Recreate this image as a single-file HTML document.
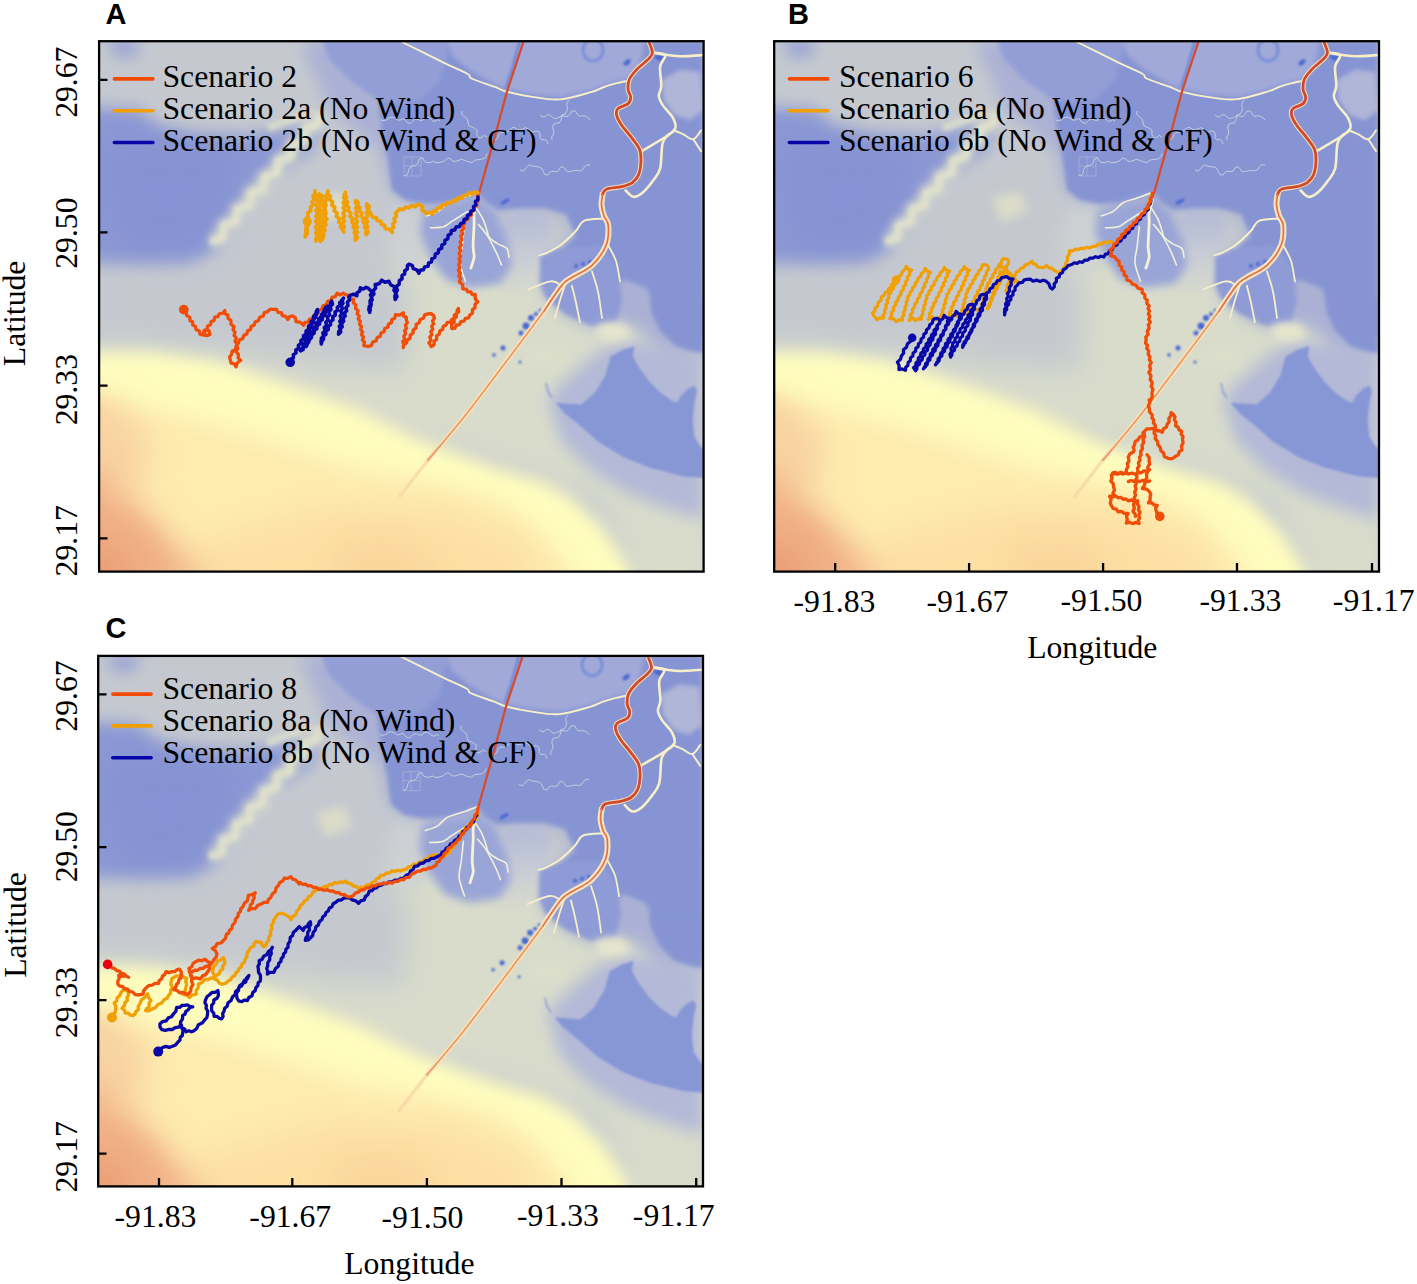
<!DOCTYPE html>
<html><head><meta charset="utf-8"><title>Trajectories</title><style>
html,body{margin:0;padding:0;background:#fff;width:1417px;height:1284px;overflow:hidden;}
svg{display:block;}
.t{font-family:"Liberation Serif",serif;font-size:31.7px;fill:#000;}
.pl{font-family:"Liberation Sans",sans-serif;font-weight:bold;font-size:29px;fill:#000;}
</style></head><body>
<svg width="1417" height="1284" viewBox="0 0 1417 1284">
<defs>
<clipPath id="clipA"><rect x="99.1" y="41.2" width="604.5" height="530.4"/></clipPath>
<filter id="b4" filterUnits="userSpaceOnUse" x="0" y="0" width="800" height="700"><feGaussianBlur stdDeviation="4"/></filter>
<filter id="b8" filterUnits="userSpaceOnUse" x="0" y="0" width="800" height="700"><feGaussianBlur stdDeviation="8"/></filter>
<filter id="b12" filterUnits="userSpaceOnUse" x="0" y="0" width="800" height="700"><feGaussianBlur stdDeviation="12"/></filter>
<filter id="b15" filterUnits="userSpaceOnUse" x="0" y="0" width="800" height="700"><feGaussianBlur stdDeviation="15"/></filter>
<filter id="b25" filterUnits="userSpaceOnUse" x="0" y="0" width="800" height="700"><feGaussianBlur stdDeviation="25"/></filter>
<filter id="b2" filterUnits="userSpaceOnUse" x="0" y="0" width="800" height="700"><feGaussianBlur stdDeviation="2"/></filter>
<filter id="b1" filterUnits="userSpaceOnUse" x="0" y="0" width="800" height="700"><feGaussianBlur stdDeviation="1"/></filter>
<g id="map" clip-path="url(#clipA)">
  <!-- ===== sea ===== -->
  <rect x="60" y="0" width="700" height="620" fill="#c5c9cf"/>
  <g filter="url(#b15)">
    <polygon points="60,345 200,352 300,365 405,372 410,300 390,240 470,250 560,262 640,300 720,330 720,640 650,640 600,500 500,465 400,440 300,400 200,380 60,370" fill="#d9dccb"/>
  </g>
  <g filter="url(#b8)">
    <polygon points="60,352 150,352 220,362 300,388 360,410 420,440 500,469 545,482 575,500 605,530 630,570 640,640 60,640" fill="#fefdbe"/>
  </g>
  <g filter="url(#b12)">
    <polygon points="60,400 150,408 220,425 300,450 350,467 420,480 496,500 540,530 571,570 580,640 60,640" fill="#feebae"/>
  </g>
  <g filter="url(#b15)">
    <polygon points="60,390 115,400 150,440 140,490 60,510" fill="#f8d3a2"/>
    <polygon points="200,540 330,505 450,510 520,540 555,600 555,640 200,640" fill="#fde0a4"/>
    <polygon points="330,545 400,535 440,565 430,600 340,600" fill="#fbd69c"/>
  </g>
  <g filter="url(#b15)">
    <polygon points="60,465 100,472 150,515 210,580 60,640" fill="#f2b58a"/>
  </g>
  <radialGradient id="orc" cx="98" cy="575" r="80" gradientUnits="userSpaceOnUse">
    <stop offset="0" stop-color="#ea9c72"/>
    <stop offset="1" stop-color="#eea67c" stop-opacity="0"/>
  </radialGradient>
  <rect x="60" y="480" width="160" height="140" fill="url(#orc)"/>
  <!-- ===== left blue shallow zone ===== -->
  <g filter="url(#b8)">
    <polygon points="60,106 140,109 158,126 200,136 250,136 290,128 322,122 312,150 284,168 260,180 243,204 228,228 214,250 192,262 140,264 60,262" fill="#8b98d4"/>
    <polygon points="108,41 140,41 136,55 115,56" fill="#8f9ad6"/>
  </g>
  <g filter="url(#b15)">
    <polygon points="100,150 180,140 240,150 230,190 210,235 180,250 120,245" fill="#8190d3" opacity="0.7"/>
  </g>
  <!-- cream streaks -->
  <g filter="url(#b4)" fill="none" stroke-linejoin="round">
    <path d="M210.3,241.8 L222.5,238.1 L223.9,225.5 L236.1,221.9 L237.6,209.3 L249.7,205.6 L251.2,193.0 L263.4,189.4 L264.8,176.8 L277.0,173.1 L278.4,160.5 L290.6,156.9 L292.1,144.3 L304.2,140.6 L305.7,128.0 L317.9,124.4 L319.3,111.8" stroke="#d4d7cd" stroke-width="14"/>
  </g>
  <g filter="url(#b2)" fill="none" stroke-linejoin="round">
    <path d="M210.3,241.8 L222.5,238.1 L223.9,225.5 L236.1,221.9 L237.6,209.3 L249.7,205.6 L251.2,193.0 L263.4,189.4 L264.8,176.8 L277.0,173.1 L278.4,160.5 L290.6,156.9 L292.1,144.3 L304.2,140.6 L305.7,128.0 L317.9,124.4 L319.3,111.8" stroke="#dfe0cb" stroke-width="6"/>
    <path d="M268,128 L290,120 L312,112" stroke="#d6d9cd" stroke-width="8"/>
  </g>
  <g filter="url(#b4)">
    <polygon points="318,198 345,192 352,212 326,222" fill="#dcdcc8"/>
  </g>
  <!-- ===== land ===== -->
  <linearGradient id="lz" x1="0" y1="210" x2="0" y2="300" gradientUnits="userSpaceOnUse">
    <stop offset="0" stop-color="#b2b9d8"/><stop offset="0.6" stop-color="#ccd0d4"/><stop offset="1" stop-color="#dadccb"/>
  </linearGradient>
  <g filter="url(#b8)">
    <!-- shallow halo around land -->
    <polygon points="300,41 703,41 703,360 660,358 640,330 625,326 600,330 570,318 545,296 540,270 560,250 575,232 560,214 520,210 500,212 480,198 440,206 405,202 390,190 380,150 330,110" fill="#aab1d4"/>
    <polygon points="396,205 420,208 428,230 426,262 418,275 400,262 390,225" fill="#cdd1d4"/>
  </g>
  <g filter="url(#b4)">
    <polygon points="505,214 530,210 550,220 552,240 544,256 534,280 524,304 505,304 498,272 502,240" fill="url(#lz)"/>
  </g>
  <g filter="url(#b2)">
    <polygon points="322,41 330,60 350,80 378,100 382,130 388,160 392,190 405,200 425,204 448,203 466,198 478,193 486,203 498,210 520,208 545,208 566,214 576,236 560,250 548,262 546,284 562,300 582,315 600,322 612,318 618,300 621,280 629,281 648,289 653,310 657,315 670,330 704,338 703,41" fill="#8694d3"/>
    <polygon points="322,41 330,60 350,80 378,100 400,104 420,100 440,80 450,41" fill="#939ed7"/>
    <polygon points="448,41 452,55 470,70 494,84 507,89 532,94 560,97 591,90 604,85 617,81 628,79 640,65 645,41" fill="#a0a9d8"/>
    <polygon points="662,80 680,70 700,72 703,110 690,120 675,115 664,100" fill="#b0b6d8"/>
    <!-- atchafalaya delta lobes -->
    <polygon points="540,256 560,248 600,246 618,270 622,300 616,322 592,326 565,314 546,298 540,284" fill="#8e9bd6"/>
  </g>
  <!-- wax lake delta lobes -->
  <g filter="url(#b4)">
    <polygon points="424,210 478,196 496,212 508,240 512,266 500,284 470,288 446,280 430,258 420,232" fill="#9aa5d7"/>
  </g>
  <!-- lower right island -->
  <g filter="url(#b8)">
    <polygon points="548,398 565,380 600,350 625,340 660,345 704,352 704,520 670,510 630,495 590,470 560,440" fill="#b3b9d7"/>
  </g>
  <g filter="url(#b4)">
    <polygon points="596,326 612,322 628,326 630,338 612,342 598,338" fill="#e6e6cc"/>
    <polygon points="530,350 550,346 566,352 564,366 545,370 530,364" fill="#dcdecb"/>
  </g>
  <g filter="url(#b1)">
    <polygon points="555.7,402.8 581.4,404.5 595.1,392.5 605.4,375.4 610.5,356.5 622.5,349.7 634.5,346.2 632.8,356.5 639.6,368.5 649.9,382.2 660.2,392.5 672.2,401 677.3,402.8 680.7,395.9 687.6,389.1 694.4,385.6 697,390.8 694.4,402.8 692.7,419.9 694.4,437 701.3,447.3 704,449 704,478.1 684.1,476.4 649.9,467.8 624.2,457.6 598.5,442.1 581.4,426.7 564.3,413" fill="#8797d6"/>
    <path d="M546,383 L548,392 L552,398" stroke="#8797d6" stroke-width="1.5" fill="none"/>
  </g>
  <!-- right side land down to island -->
  <g filter="url(#b2)">
    <polygon points="640,300 651.6,300 651.6,312 660.2,330.8 675.6,346.2 692.7,351.4 704,353 704,300" fill="#8694d3"/>
  </g>
  <ellipse cx="593" cy="50" rx="10" ry="11" fill="none" stroke="#7b90d8" stroke-width="3" filter="url(#b1)"/>
  <path d="M520,41 L512,70 L506,88" stroke="#7288d6" stroke-width="3" fill="none" filter="url(#b1)"/>
  <!-- ===== dark blue spots ===== -->
  <g fill="#4a66d2" filter="url(#b1)">
    <ellipse cx="505" cy="201.5" rx="5" ry="1.8" transform="rotate(-30 505 201.5)"/>
    <circle cx="531" cy="318" r="3"/><circle cx="526" cy="326" r="3.5"/><circle cx="521" cy="333" r="2.5"/>
    <circle cx="536" cy="314" r="2"/><circle cx="540" cy="310" r="1.5"/>
    <circle cx="503" cy="348" r="2.5"/><circle cx="494" cy="355" r="1.8"/><circle cx="520" cy="362" r="1.5"/>
    <circle cx="576" cy="266" r="2"/><circle cx="583" cy="264" r="2"/><circle cx="590" cy="262" r="2"/>
    <path d="M623,63 l5,-4 l3,1 l-2,4 l-4,2z"/>
    <path d="M653,56 l8,-1 l4,3 l-6,3z"/>
  </g>
  <!-- ===== channels (cream) ===== -->
  <g fill="none" stroke="#f6efc8" stroke-linecap="round" stroke-linejoin="round">
    <path d="M402.0,42.0 C408.9,45.4 432.6,57.3 443.5,62.6 C454.4,67.9 463.0,71.3 467.7,74.0 C472.4,76.7 467.1,76.4 471.5,78.5 C475.9,80.6 488.4,84.5 494.3,86.7 C500.2,88.9 500.6,90.1 507.0,91.8 C513.4,93.5 523.6,95.6 532.4,96.9 C541.2,98.2 550.2,100.2 560.0,99.4 C569.8,98.6 583.7,94.2 591.0,92.1 C598.3,90.0 599.7,88.5 604.0,87.0 C608.3,85.5 612.8,84.3 617.0,83.2 C621.2,82.1 627.0,81.0 629.0,80.6" stroke-width="1.9"/>
    <path d="M652.4,52.5 C654.5,52.9 663.9,52.7 665.2,55.0 C666.5,57.3 660.8,61.4 660.1,66.5 C659.5,71.6 661.5,80.8 661.3,85.7 C661.1,90.6 658.6,92.7 658.8,95.9 C659.0,99.1 660.3,101.3 662.6,104.9 C664.9,108.5 670.7,113.8 672.8,117.6 C674.9,121.4 676.2,124.9 675.4,127.9 C674.5,130.9 673.2,131.7 667.7,135.5 C662.2,139.3 646.5,148.2 642.2,150.8" stroke-width="2.6"/>
    <path d="M652.4,52.5 C655.0,52.9 663.0,54.4 667.7,55.0 C672.4,55.6 674.5,56.3 680.5,56.3 C686.5,56.3 700.1,55.2 704.0,55.0" stroke-width="2.6"/>
    <path d="M669.0,134.0 C667.9,135.5 664.1,137.4 662.6,143.2 C661.1,149.0 661.8,162.3 660.1,168.7 C658.4,175.1 655.4,177.4 652.4,181.5 C649.4,185.6 645.4,190.4 642.2,193.0 C639.0,195.6 636.0,197.2 633.2,196.8 C630.4,196.4 626.9,191.5 625.6,190.4" stroke-width="2.6"/>
    <path d="M675.4,131.0 C676.7,131.5 680.0,132.8 683.0,134.2 C686.0,135.6 690.3,139.9 693.3,139.3 C696.3,138.7 699.7,131.9 701.0,130.4" stroke-width="2"/>
    <path d="M693.3,139.3 L701.0,151.0" stroke-width="2"/>
    <path d="M602.6,194.3 C602.4,196.1 601.3,201.4 601.5,205.0 C601.7,208.6 602.9,212.7 604.0,216.0 C605.1,219.3 607.8,220.2 608.2,225.0 C608.6,229.8 608.9,238.3 606.2,245.0 C603.5,251.7 597.7,259.9 592.0,265.3 C586.3,270.7 576.9,274.1 571.8,277.5 C566.7,280.9 566.3,279.9 561.6,285.6 C556.9,291.3 546.4,307.5 543.4,311.9" stroke-width="6" stroke="#f4e4c0"/>
    <path d="M604.0,218.7 C600.7,219.0 588.7,218.8 584.0,220.8 C579.3,222.9 579.6,227.0 575.8,231.0 C571.9,235.0 565.8,241.2 560.9,244.8 C556.0,248.5 550.3,251.2 546.7,252.9 C543.1,254.6 540.6,254.8 539.4,255.2" stroke-width="2"/>
    <path d="M561.6,285.6 C559.8,284.9 556.3,280.7 550.8,281.3 C545.3,281.9 532.2,288.0 528.5,289.4" stroke-width="1.8"/>
    <path d="M571.8,285.6 C572.5,288.3 574.4,295.7 575.8,301.8 C577.1,307.9 579.2,318.6 579.9,322.0" stroke-width="1.8"/>
    <path d="M592.0,271.4 C593.0,274.8 596.3,283.8 598.0,291.6 C599.7,299.4 601.3,313.6 602.0,318.0" stroke-width="1.8"/>
    <path d="M608.0,245.0 C609.3,247.7 614.0,254.9 616.0,261.0 C618.0,267.1 619.3,278.1 620.0,281.5" stroke-width="1.8"/>
    <path d="M566.0,282.0 C565.0,285.0 561.8,294.0 560.0,300.0 C558.2,306.0 555.8,315.0 555.0,318.0" stroke-width="1.8"/>
    <path d="M543.4,311.9 C537.3,320.0 520.2,343.0 507.0,360.5 C493.8,378.0 477.2,400.4 464.0,417.0 C450.8,433.6 434.0,452.8 428.0,460.0" stroke-width="4.6" stroke="#f8e4ba"/>
    <path d="M428,460 L400,496" stroke-width="3.6" stroke="#f5d4a4" opacity="0.7"/>
    <path d="M478.5,191.8 C475.6,192.9 466.1,196.6 461.0,198.4 C455.9,200.2 451.8,200.5 448.0,202.7 C444.2,204.9 441.8,209.2 438.2,211.4 C434.6,213.6 428.2,215.1 426.2,215.8" stroke-width="1.6" stroke="#f2f0d8"/>
    <path d="M467.6,211.4 C465.1,213.0 456.3,218.6 452.3,221.2 C448.3,223.8 447.2,225.6 443.6,226.7 C440.0,227.8 432.7,227.6 430.5,227.8" stroke-width="1.6" stroke="#f2f0d8"/>
    <path d="M478.5,224.5 C479.9,226.3 484.3,230.8 487.2,235.4 C490.1,240.0 493.6,246.9 496.0,251.8 C498.4,256.7 500.5,262.7 501.4,264.9" stroke-width="1.6" stroke="#f2f0d8"/>
    <path d="M464.3,226.7 C463.9,230.0 462.9,240.3 462.2,246.3 C461.5,252.3 459.5,256.9 460.0,262.7 C460.5,268.5 464.5,278.1 465.4,281.2" stroke-width="1.6" stroke="#f2f0d8"/>
    <path d="M476.3,208.2 C477.4,210.0 481.1,215.3 482.9,219.1 C484.7,222.9 486.1,228.0 487.2,231.1 C488.3,234.2 487.6,235.4 489.4,237.6 C491.2,239.8 495.2,242.3 498.1,244.1 C501.0,245.9 505.1,246.3 506.9,248.5 C508.7,250.7 508.6,255.8 509.0,257.2" stroke-width="1.6" stroke="#f2f0d8"/>
    <path d="M477.5,200.0 C477.3,200.8 476.9,202.6 476.3,204.9 C475.7,207.2 474.5,210.3 474.1,213.6 C473.7,216.9 474.3,219.1 474.1,224.5 C473.9,229.9 473.1,240.9 473.1,246.3 C473.1,251.8 474.5,253.6 474.1,257.2 C473.7,260.8 471.4,266.3 470.9,268.1" stroke-width="2.8" stroke="#f5f2d6"/>
  </g>
  <g fill="none" stroke="#e4e6e2" stroke-width="0.9" opacity="0.75">
    <path d="M403.8,175.8 L407.0,175.1 L408.1,172.5 L408.7,169.3 L410.2,167.1 L412.9,165.9 L415.9,165.1 L418.0,163.2 L418.8,159.5 L422.5,157.6 L424.3,161.1 L426.8,162.5 L429.9,162.5 L433.6,161.3 L436.1,162.8 L440.0,162.3 L443.1,161.6 L445.6,160.0 L447.9,158.0 L450.7,158.9 L452.8,161.2 L455.3,161.3 L458.0,160.7 L461.3,159.3 L464.7,160.2 L468.3,161.8 L472.1,162.5 L475.4,160.0 L478.0,159.7 L481.2,159.2 L484.2,158.5 L486.0,156.3 L487.3,153.6"/>
    <path d="M462.1,111.0 L461.6,114.2 L463.7,116.1 L466.2,117.9 L467.7,120.1 L468.0,123.0 L469.1,125.9 L471.8,127.2 L474.6,128.4 L477.1,130.4 L476.8,134.4 L479.0,138.4 L481.7,137.2 L484.3,135.4 L487.0,137.0"/>
    <path d="M492.9,139.9 L496.2,139.6 L497.9,137.4 L499.1,134.4 L500.9,132.4 L504.3,132.3 L506.3,131.9 L508.9,130.6 L511.4,128.1 L514.2,127.3 L517.3,129.4 L519.6,130.0 L522.6,129.1 L525.6,127.6 L528.1,128.8 L530.5,130.7 L533.0,132.3 L536.1,130.9 L539.0,131.6 L540.2,134.0 L540.0,137.6 L541.5,139.7 L545.2,139.7 L547.2,141.3 L548.0,144.0"/>
    <path d="M569.1,100.0 L567.1,102.5 L566.8,105.4 L567.4,108.6 L566.8,111.5 L565.1,114.1 L562.0,114.9 L561.5,118.0 L560.7,120.7 L559.2,122.9 L555.6,123.3 L553.2,124.7 L552.8,128.0 L553.7,131.1 L553.7,134.1 L551.7,137.0 L552.0,140.0"/>
    <path d="M381.0,120.1 L384.0,120.7 L386.7,119.7 L389.2,117.6 L392.0,117.1 L395.0,118.0 L397.2,119.8 L399.8,120.2 L402.9,118.5 L405.2,119.9 L407.2,122.4 L410.4,123.4 L412.5,121.5 L414.6,119.2 L417.3,119.2 L420.3,120.4 L422.9,120.2 L425.0,117.9 L427.7,117.4 L430.1,118.3 L432.3,120.6 L434.7,121.5 L437.7,119.7 L440.0,121.0"/>
    <path d="M519.9,169.8 L523.1,171.1 L525.3,169.1 L527.2,166.5 L529.4,164.9 L532.6,166.1 L534.0,166.3 L537.1,166.7 L540.1,167.4 L542.2,169.1 L543.5,171.9 L544.8,174.7 L548.1,175.1 L549.7,172.5 L552.2,171.2 L555.8,171.8 L558.5,170.9 L560.2,167.4 L563.0,166.7 L565.1,168.9 L567.1,171.6 L569.7,171.7 L572.6,170.8 L574.4,170.6 L577.3,170.4 L580.5,170.8 L582.9,169.3 L584.6,166.5 L586.9,164.9 L590.0,165.0"/>
    <path d="M540.0,114.8 L542.3,116.8 L544.8,116.8 L547.7,114.6 L550.2,115.2 L552.4,117.4 L554.8,118.6 L557.5,117.9 L559.6,117.1 L562.0,115.6 L565.1,116.3 L568.1,116.4 L570.1,114.3 L571.8,111.3 L575.5,111.0 L577.1,114.0 L579.1,116.3 L582.6,115.8 L585.6,116.3 L588.0,117.8 L590.0,120.0"/>
    <path d="M404,157 L404,176 L421,176 L421,157 Z M404,166 L421,166 M412,157 L412,176" stroke-width="0.6" opacity="0.6"/>
  </g>
  <!-- ===== red channels ===== -->
  <g fill="none" stroke-linecap="round" stroke-linejoin="round">
    <path d="M648.6,41.0 C649.2,42.9 652.4,49.5 652.4,52.5 C652.4,55.5 651.1,56.1 648.6,58.9 C646.1,61.7 640.3,65.7 637.1,69.1 C633.9,72.5 630.9,75.9 629.4,79.3 C627.9,82.7 627.9,86.5 628.1,89.5 C628.3,92.5 630.7,94.9 630.7,97.2 C630.7,99.5 630.2,101.7 628.1,103.6 C626.0,105.5 619.8,106.8 617.9,108.7 C616.0,110.6 616.0,112.3 616.6,115.1 C617.2,117.9 619.1,121.5 621.7,125.3 C624.3,129.1 629.0,134.0 632.0,138.1 C635.0,142.2 638.1,145.6 639.6,149.6 C641.1,153.6 641.1,158.1 640.9,162.3 C640.7,166.6 639.9,171.7 638.4,175.1 C636.9,178.5 634.8,180.9 632.0,182.8 C629.2,184.7 626.0,185.5 621.7,186.6 C617.4,187.7 609.6,187.9 606.4,189.2 C603.2,190.5 603.2,193.5 602.6,194.3" stroke="#f3dcb4" stroke-width="5"/>
    <path d="M648.6,41.0 C649.2,42.9 652.4,49.5 652.4,52.5 C652.4,55.5 651.1,56.1 648.6,58.9 C646.1,61.7 640.3,65.7 637.1,69.1 C633.9,72.5 630.9,75.9 629.4,79.3 C627.9,82.7 627.9,86.5 628.1,89.5 C628.3,92.5 630.7,94.9 630.7,97.2 C630.7,99.5 630.2,101.7 628.1,103.6 C626.0,105.5 619.8,106.8 617.9,108.7 C616.0,110.6 616.0,112.3 616.6,115.1 C617.2,117.9 619.1,121.5 621.7,125.3 C624.3,129.1 629.0,134.0 632.0,138.1 C635.0,142.2 638.1,145.6 639.6,149.6 C641.1,153.6 641.1,158.1 640.9,162.3 C640.7,166.6 639.9,171.7 638.4,175.1 C636.9,178.5 634.8,180.9 632.0,182.8 C629.2,184.7 626.0,185.5 621.7,186.6 C617.4,187.7 609.6,187.9 606.4,189.2 C603.2,190.5 603.2,193.5 602.6,194.3" stroke="#d04830" stroke-width="2.8"/>
    <path d="M602.6,194.3 C602.4,196.1 601.3,201.4 601.5,205.0 C601.7,208.6 602.9,212.7 604.0,216.0 C605.1,219.3 607.8,220.2 608.2,225.0 C608.6,229.8 608.9,238.3 606.2,245.0 C603.5,251.7 597.7,259.9 592.0,265.3 C586.3,270.7 576.9,274.1 571.8,277.5 C566.7,280.9 566.3,279.9 561.6,285.6 C556.9,291.3 546.4,307.5 543.4,311.9" stroke="#e4704a" stroke-width="1.7"/>
    <path d="M543.4,311.9 C537.3,320.0 520.2,343.0 507.0,360.5 C493.8,378.0 477.2,400.4 464.0,417.0 C450.8,433.6 434.0,452.8 428.0,460.0" stroke="#ec9a68" stroke-width="1.8"/>
    <path d="M523.7,41 L507,91.5 L493.7,141 L479,193" stroke="#d84a2e" stroke-width="2.3"/>
  </g>

  <!-- MAPLAYERS -->
</g>
</defs>
<use href="#map"/>
<use href="#map" transform="translate(675,0)"/>
<use href="#map" transform="translate(-0.9,614.7)"/>
<!-- TRACKS -->
<g fill="none" stroke-linecap="round" stroke-linejoin="round">
<path d="M182.8,309.6 L186.1,311.6 L186.6,315.4 L189.9,317.4 L189.9,320.5 L192.7,321.9 L192.7,325.0 L195.4,326.3 L196.1,329.6 L199.2,330.8 L200.1,334.3 L203.7,335.0 L207.5,335.5 L210.1,334.2 L209.0,330.8 L206.7,329.6 L203.6,333.5 L204.1,330.3 L207.1,329.2 L207.6,326.0 L210.6,324.8 L211.1,321.6 L214.1,320.5 L214.7,317.2 L217.9,316.7 L219.2,313.8 L222.4,313.3 L224.9,310.6 L225.0,313.7 L227.9,315.1 L228.0,318.2 L230.9,320.4 L231.0,324.2 L234.0,326.6 L233.0,329.8 L235.1,332.3 L234.1,335.4 L236.3,338.0 L235.1,341.2 L237.0,344.0 L236.0,346.6 L235.4,349.9 L232.2,351.1 L231.8,354.0 L229.6,357.2 L230.4,360.1 L231.1,363.1 L234.2,363.9 L236.1,366.8 L237.1,363.0 L240.7,360.4 L238.1,357.9 L238.5,354.4 L235.8,351.5 L237.8,348.7 L236.6,345.5 L238.4,343.2 L239.5,339.8 L242.8,338.6 L243.9,335.3 L246.9,334.0 L247.5,330.8 L250.6,329.5 L251.2,326.3 L254.2,325.1 L255.3,321.7 L258.6,320.6 L259.7,317.2 L263.1,316.1 L264.3,312.7 L267.4,311.8 L270.2,309.1 L273.5,309.4 L276.6,309.5 L278.0,312.4 L281.2,312.6 L282.4,315.7 L285.7,316.4 L287.8,319.6 L289.8,316.5 L292.4,315.9 L295.5,317.9 L296.1,321.8 L300.2,322.1 L303.6,325.2 L305.0,322.3 L308.2,322.2 L309.4,319.4 L312.8,318.3 L313.9,314.9 L317.3,313.8 L318.4,310.4 L321.8,309.3 L323.0,305.9 L326.4,304.8 L327.6,301.4 L330.9,300.6 L332.1,297.4 L335.4,296.6 L337.1,293.2 L340.1,294.8 L343.2,293.2 L345.7,294.6 L349.0,295.3 L350.1,298.4 L353.6,299.4 L353.3,302.8 L355.9,305.1 L355.5,308.5 L358.2,310.8 L357.2,313.8 L359.3,316.1 L358.3,319.1 L360.4,321.4 L359.5,324.3 L361.6,326.7 L360.5,329.5 L362.6,331.8 L361.5,334.7 L363.5,337.0 L362.4,339.9 L364.5,342.2 L363.8,345.6 L368.1,346.5 L371.5,345.4 L372.7,342.0 L376.1,340.9 L377.2,337.6 L380.3,336.3 L381.0,333.1 L384.1,331.8 L384.7,328.5 L387.8,327.3 L388.5,324.0 L391.4,322.7 L391.8,319.5 L394.8,318.2 L395.5,314.7 L399.5,315.1 L403.3,312.8 L403.4,315.9 L406.3,317.3 L406.3,319.9 L407.4,322.8 L405.4,325.3 L406.6,328.3 L404.6,330.8 L405.7,333.7 L403.7,336.2 L404.8,339.1 L402.7,341.6 L403.8,344.5 L403.2,347.6 L403.7,344.4 L406.6,343.1 L407.1,339.9 L410.1,338.5 L410.2,335.1 L413.1,333.2 L413.2,329.8 L416.1,328.0 L416.2,324.5 L419.0,322.9 L420.1,319.5 L423.5,318.3 L424.7,314.9 L427.2,314.0 L431.1,313.6 L433.4,315.4 L434.5,318.3 L432.5,320.8 L433.7,323.8 L431.7,326.3 L432.8,329.2 L430.8,331.7 L431.9,334.6 L429.8,337.1 L430.9,340.0 L429.0,343.0 L431.3,346.7 L434.1,344.8 L434.0,341.3 L436.7,339.4 L436.6,335.9 L439.3,334.1 L439.8,330.8 L442.7,329.5 L443.2,326.3 L445.9,325.2 L447.3,322.3 L450.5,322.2 L451.6,319.6 L454.3,318.2 L454.3,315.1 L457.1,313.6 L457.1,310.5 L458.4,308.4 L458.7,311.6 L456.1,313.7 L456.4,316.9 L453.8,318.9 L454.2,322.2 L451.5,324.5 L451.8,328.5 L455.0,328.0 L456.3,325.1 L459.5,324.6 L460.8,321.7 L464.1,321.2 L465.4,318.3 L468.6,317.8 L469.7,315.1 L472.5,313.2 L472.4,309.7 L475.1,307.8 L475.0,304.3 L477.9,301.8 L475.2,298.8 L475.3,294.5 L472.2,294.5 L470.8,291.8 L467.7,291.8 L466.3,289.1 L462.9,288.8 L462.6,284.6 L459.4,281.7 L460.7,278.7 L458.9,276.0 L460.2,273.0 L458.3,270.3 L460.0,267.5 L458.6,264.6 L460.3,261.9 L458.9,259.0 L460.6,256.3 L459.1,253.4 L460.9,250.7 L459.4,247.7 L461.3,245.1 L460.1,242.0 L462.0,239.4 L460.8,236.3 L462.7,233.7 L461.6,230.8 L463.7,228.4 L462.6,225.4 L464.5,223.4 L465.0,220.4 L467.9,219.4 L468.4,216.4 L471.4,215.3 L471.3,212.1 L474.1,210.4 L474.0,207.3 L476.8,205.6 L476.6,202.7 L478.6,199.8 L477.5,196.4 L478.7,193.4" stroke="#f04e08" stroke-width="3.3"/>
<path d="M306.3,221.6 L308.1,224.8 L305.9,227.7 L307.6,230.9 L305.4,233.8 L305.2,236.9 L307.3,233.8 L305.5,230.7 L307.6,227.6 L305.8,224.4 L308.0,221.8 L306.1,218.8 L308.2,216.5 L307.7,212.8 L310.9,210.9 L310.3,207.3 L313.0,205.0 L311.9,201.7 L314.6,199.2 L312.8,196.4 L314.9,193.9 L315.0,190.7 L314.6,194.2 L317.9,196.3 L315.9,199.1 L317.9,201.9 L315.9,204.8 L317.9,207.6 L315.9,210.4 L317.9,213.2 L315.8,216.0 L317.7,218.9 L315.6,221.6 L317.5,224.5 L315.4,227.3 L317.5,230.1 L315.6,233.0 L317.7,235.8 L315.8,238.7 L315.9,241.3 L318.5,238.9 L317.1,235.7 L319.6,233.2 L318.2,230.2 L320.3,227.4 L318.4,224.5 L320.5,221.7 L318.5,218.9 L320.6,216.1 L318.7,213.2 L320.8,210.4 L318.9,207.6 L321.0,204.8 L319.1,201.9 L321.1,199.2 L319.2,196.3 L319.4,193.9 L322.4,195.9 L321.6,199.5 L324.7,201.8 L323.1,204.9 L325.5,207.4 L323.9,210.5 L326.2,213.1 L324.6,216.2 L327.0,219.1 L324.6,221.6 L326.1,224.7 L323.6,227.2 L325.1,230.3 L322.7,232.7 L323.9,236.1 L321.3,238.4 L320.5,241.4 L322.9,238.8 L321.2,235.7 L323.6,233.1 L322.0,230.0 L324.3,227.5 L322.7,224.4 L324.9,221.7 L323.1,218.8 L325.2,216.1 L323.4,213.2 L325.6,210.5 L323.8,207.5 L326.2,205.0 L324.6,202.0 L326.9,199.5 L325.3,196.5 L327.7,194.1 L328.0,190.8 L327.3,194.3 L330.3,196.3 L329.6,199.8 L332.6,201.8 L331.8,205.2 L334.8,207.2 L334.1,210.8 L337.1,212.9 L336.3,216.4 L339.3,218.5 L338.6,222.0 L341.3,223.9 L340.3,227.1 L343.0,229.0 L343.9,232.0 L342.1,229.2 L344.2,226.6 L342.4,223.8 L344.5,221.3 L342.7,218.5 L344.8,215.9 L343.0,213.2 L345.1,210.6 L343.2,207.9 L345.2,205.4 L343.3,202.7 L345.4,200.2 L343.5,197.5 L345.5,194.9 L345.6,192.1 L344.2,195.1 L346.7,197.2 L345.3,200.2 L347.8,202.3 L346.5,205.3 L348.9,207.3 L348.0,210.7 L350.8,212.9 L349.9,216.4 L352.7,218.6 L351.7,222.0 L354.6,224.3 L353.1,227.3 L355.6,229.6 L354.1,232.6 L356.5,234.9 L355.0,237.8 L355.5,240.3 L357.5,237.6 L355.5,235.0 L357.5,232.3 L355.5,229.6 L357.5,226.9 L355.5,224.2 L357.5,221.6 L355.5,218.9 L357.5,216.2 L355.5,213.6 L357.5,210.9 L355.5,208.2 L357.5,205.5 L355.5,202.9 L355.6,200.5 L358.3,202.4 L357.3,205.6 L360.0,207.5 L359.0,210.7 L361.8,212.9 L361.0,216.4 L363.8,218.5 L363.0,222.0 L365.9,224.3 L364.5,227.3 L367.0,229.4 L365.6,232.4 L366.2,234.7 L368.1,232.0 L366.0,229.5 L367.9,226.8 L365.8,224.2 L367.7,221.5 L365.6,218.8 L367.8,215.9 L366.1,212.7 L368.3,209.8 L366.6,206.6 L366.8,203.8 L369.4,206.6 L367.9,210.2 L370.2,212.4 L372.8,217.4 L376.2,217.5 L377.2,220.8 L380.7,221.0 L381.3,224.5 L384.7,225.2 L385.4,228.8 L389.4,229.4 L392.5,232.5 L391.2,229.4 L393.8,227.2 L392.6,224.0 L395.2,221.8 L393.9,218.6 L396.5,216.4 L395.3,213.2 L397.2,211.7 L399.6,208.9 L403.3,209.7 L405.7,206.9 L409.2,207.8 L411.8,205.3 L415.2,206.8 L417.8,204.3 L420.1,205.1 L422.8,206.9 L421.9,210.1 L423.9,211.2 L426.2,213.6 L429.3,212.1 L432.4,214.3 L433.3,211.1 L436.7,211.1 L437.6,207.9 L441.0,207.9 L442.1,204.6 L445.6,205.3 L447.5,202.4 L450.9,203.2 L452.8,200.3 L456.3,201.0 L458.1,197.9 L461.7,198.3 L463.5,195.2 L467.1,195.6 L469.2,192.4 L472.3,194.2 L475.0,191.9 L478.0,192.7" stroke="#f09f05" stroke-width="3.6"/>
<path d="M290.9,362.7 L290.8,359.5 L293.4,357.9 L293.3,354.8 L296.0,353.1 L295.8,350.0 L298.5,348.4 L298.4,345.2 L301.1,343.6 L300.9,340.4 L303.6,338.8 L303.4,335.7 L306.1,334.0 L306.0,330.9 L308.7,329.3 L308.5,326.1 L311.2,324.5 L311.1,321.4 L313.7,319.7 L313.6,316.6 L316.3,314.9 L316.1,311.8 L317.4,309.5 L317.8,312.5 L315.4,314.4 L315.9,317.4 L313.4,319.3 L313.9,322.3 L311.4,324.1 L311.9,327.2 L309.4,329.0 L309.9,332.1 L307.4,333.9 L307.9,337.0 L305.4,338.8 L305.9,341.8 L303.4,343.7 L303.9,346.7 L301.5,348.6 L300.5,350.9 L303.2,349.4 L303.1,346.3 L305.8,344.8 L305.7,341.8 L308.4,340.3 L308.4,337.2 L311.1,335.7 L311.0,332.6 L313.7,331.1 L313.6,328.1 L316.3,326.6 L316.2,323.5 L318.9,322.0 L318.8,318.9 L321.5,317.4 L321.5,314.3 L324.2,312.9 L324.1,309.8 L326.8,308.3 L328.1,306.0 L325.4,307.6 L325.5,310.8 L322.8,312.4 L322.9,315.5 L320.2,317.2 L320.3,320.3 L317.6,321.9 L317.8,325.1 L315.0,326.7 L315.2,329.9 L312.5,331.5 L312.6,334.6 L309.9,336.3 L310.0,339.4 L307.3,341.0 L307.4,344.2 L306.1,346.6 L306.1,343.5 L308.8,342.1 L308.8,339.1 L311.5,337.6 L311.5,334.6 L314.2,333.1 L314.2,330.1 L316.9,328.7 L316.9,325.6 L319.6,324.2 L319.6,321.1 L322.3,319.7 L322.3,316.6 L325.1,315.2 L325.0,312.1 L327.8,310.7 L327.8,307.6 L330.5,306.2 L330.5,303.1 L331.7,301.1 L332.5,304.2 L330.2,306.4 L331.0,309.5 L328.8,311.7 L329.6,314.8 L327.3,317.0 L328.1,320.1 L325.8,322.3 L326.6,325.4 L324.3,327.6 L325.1,330.7 L322.8,332.9 L323.6,336.0 L321.3,338.2 L322.1,341.3 L321.3,344.0 L321.0,340.9 L323.6,339.2 L323.4,336.1 L326.0,334.4 L325.7,331.3 L328.3,329.6 L328.0,326.5 L330.6,324.8 L330.3,321.7 L333.0,319.9 L332.7,316.8 L335.3,315.1 L335.0,312.0 L337.6,310.3 L337.3,307.2 L339.9,305.5 L339.7,302.4 L342.3,300.7 L343.5,298.0 L341.7,300.4 L343.0,303.2 L341.2,305.6 L342.5,308.4 L340.7,310.9 L342.0,313.6 L340.2,316.1 L341.6,318.8 L339.7,321.3 L341.1,324.0 L339.2,326.5 L340.6,329.3 L338.7,331.7 L338.5,334.2 L340.8,332.0 L340.0,328.9 L342.3,326.7 L341.5,323.6 L343.7,321.3 L342.9,318.3 L345.2,316.0 L344.4,313.0 L346.7,310.7 L345.9,307.7 L348.1,305.4 L347.3,302.3 L349.6,300.1 L348.8,297.0 L350.2,295.4 L353.4,294.2 L356.9,295.8 L356.9,292.7 L359.7,291.3 L360.3,287.8 L363.3,289.1 L366.0,287.3 L368.2,288.2 L372.2,292.1 L370.4,294.9 L371.8,298.0 L370.0,300.9 L371.4,304.1 L369.2,306.5 L370.3,309.7 L369.7,312.5 L368.7,309.0 L370.9,306.1 L370.0,302.6 L372.2,299.8 L371.5,296.5 L373.9,294.1 L373.2,290.7 L375.6,288.3 L375.2,284.5 L379.1,283.8 L381.7,280.2 L384.9,282.2 L388.9,281.3 L390.8,285.0 L395.1,286.8 L393.9,290.2 L395.9,293.1 L394.8,296.5 L395.2,299.5 L397.0,296.5 L395.6,293.2 L397.4,290.1 L396.1,286.5 L399.1,284.3 L399.3,280.6 L402.0,278.9 L402.0,275.6 L404.7,273.9 L404.7,270.7 L407.4,269.0 L407.4,265.7 L408.8,264.2 L412.2,265.3 L413.3,268.7 L416.7,269.8 L418.9,273.2 L420.2,270.3 L423.4,269.8 L424.7,266.9 L428.1,266.3 L428.5,263.1 L431.5,261.8 L431.9,258.6 L434.9,257.3 L435.3,254.1 L438.3,252.8 L438.7,249.6 L441.7,248.2 L441.9,245.0 L444.8,243.4 L445.0,240.2 L447.9,238.6 L448.1,235.4 L451.0,233.8 L451.4,230.4 L454.7,229.9 L456.1,227.0 L459.4,226.5 L460.7,223.7 L463.6,222.6 L464.1,219.5 L467.1,218.4 L467.5,215.3 L470.5,214.2 L471.0,211.1 L474.0,209.8 L473.5,206.7 L475.9,204.8 L475.4,201.7 L477.8,199.8 L478.0,197.0" stroke="#0808a8" stroke-width="3.5"/>
<circle cx="183.8" cy="309.6" r="4.9" fill="#f04e08" stroke="none"/>
<circle cx="307.3" cy="221.7" r="4.6" fill="#f09f05" stroke="none"/>
<circle cx="290.2" cy="362.3" r="4.8" fill="#0808a8" stroke="none"/>
<path d="M894.9,279.9 L894.3,282.8 L891.7,284.3 L891.1,287.2 L888.5,288.6 L887.7,291.4 L885.0,292.6 L884.2,295.4 L881.5,296.7 L880.9,300.3 L878.1,302.7 L877.5,306.3 L875.1,308.0 L874.9,311.0 L872.4,313.1 L874.3,316.5 L877.1,319.6 L879.9,317.9 L883.6,318.2 L883.1,315.3 L884.9,313.0 L884.4,310.2 L886.2,307.9 L885.8,305.1 L887.6,302.8 L887.1,300.0 L888.9,297.7 L888.5,294.7 L890.8,293.0 L891.0,290.1 L893.4,288.4 L893.6,285.6 L896.0,283.9 L896.2,281.0 L898.5,279.3 L899.1,276.3 L901.7,274.5 L902.3,271.5 L904.9,269.7 L906.3,266.5 L908.2,269.0 L911.6,270.2 L909.4,272.2 L909.6,275.1 L907.4,277.1 L907.6,279.9 L905.4,281.9 L905.6,284.8 L903.5,286.7 L903.3,289.8 L900.9,291.9 L900.7,295.0 L898.3,297.0 L898.1,300.1 L895.7,302.2 L895.6,305.2 L893.4,307.4 L893.6,310.4 L891.4,312.6 L891.6,315.6 L889.8,318.6 L893.3,318.5 L896.1,321.6 L898.9,319.9 L902.6,320.2 L902.1,317.3 L903.9,315.0 L903.4,312.2 L905.2,309.9 L904.8,307.1 L906.6,304.8 L906.1,302.0 L907.9,299.7 L907.5,296.7 L909.8,295.0 L910.0,292.1 L912.4,290.4 L912.6,287.6 L915.0,285.9 L915.2,283.0 L917.5,281.3 L918.1,278.3 L920.7,276.5 L921.3,273.5 L923.9,271.7 L925.3,268.5 L927.2,271.0 L930.6,272.2 L928.4,274.2 L928.6,277.1 L926.4,279.1 L926.6,281.9 L924.4,283.9 L924.6,286.8 L922.5,288.7 L922.3,291.8 L919.9,293.9 L919.7,297.0 L917.3,299.0 L917.1,302.1 L914.7,304.2 L914.6,307.2 L912.4,309.4 L912.6,312.4 L910.4,314.6 L910.6,317.6 L909.3,320.5 L912.3,317.5 L915.1,320.6 L917.9,318.9 L921.6,319.2 L921.1,316.3 L922.9,314.0 L922.4,311.2 L924.2,308.9 L923.8,306.1 L925.6,303.8 L925.1,301.0 L926.9,298.7 L926.5,295.7 L928.8,294.0 L929.0,291.1 L931.4,289.4 L931.6,286.6 L934.0,284.9 L934.2,282.0 L936.5,280.3 L937.1,277.3 L939.7,275.5 L940.3,272.5 L942.9,270.7 L944.3,267.5 L946.2,270.0 L949.6,271.2 L947.4,273.2 L947.6,276.1 L945.4,278.1 L945.6,280.9 L943.4,282.9 L943.6,285.8 L941.5,287.7 L941.3,290.8 L938.9,292.9 L938.7,296.0 L936.3,298.0 L936.1,301.1 L933.7,303.2 L933.6,306.2 L931.4,308.4 L931.6,311.4 L929.4,313.6 L929.6,316.6 L928.3,319.5 L932.3,316.5 L935.1,319.6 L937.9,317.9 L941.6,318.2 L941.1,315.3 L942.9,313.0 L942.4,310.2 L944.2,307.9 L943.8,305.1 L945.6,302.8 L945.1,300.0 L946.9,297.7 L946.5,294.7 L948.8,293.0 L949.0,290.1 L951.4,288.4 L951.6,285.6 L954.0,283.9 L954.2,281.0 L956.5,279.3 L957.1,276.3 L959.7,274.5 L960.3,271.5 L962.9,269.7 L964.3,266.5 L966.2,269.0 L969.6,270.2 L967.4,272.2 L967.6,275.1 L965.4,277.1 L965.6,279.9 L963.4,281.9 L963.6,284.8 L961.5,286.7 L961.3,289.8 L958.9,291.9 L958.7,295.0 L956.3,297.0 L956.1,300.1 L953.7,302.2 L953.6,305.2 L951.4,307.4 L951.6,310.4 L949.4,312.6 L949.6,315.6 L948.4,318.4 L949.6,315.6 L951.7,314.5 L954.9,315.4 L958.1,316.1 L960.4,314.8 L962.2,312.6 L961.8,309.7 L963.6,307.5 L963.1,304.6 L964.9,302.4 L964.4,299.5 L966.2,297.3 L965.8,294.4 L967.5,292.3 L967.8,289.4 L970.1,287.7 L970.3,284.8 L972.7,283.2 L972.9,280.3 L975.2,278.6 L975.5,275.7 L978.1,273.9 L978.7,270.9 L981.3,269.1 L981.9,266.1 L983.7,264.5 L986.8,265.0 L988.4,266.8 L988.6,269.7 L986.4,271.6 L986.6,274.5 L984.4,276.5 L984.6,279.4 L982.4,281.3 L982.5,284.3 L980.2,286.3 L980.0,289.4 L977.6,291.4 L977.4,294.6 L975.0,296.6 L974.8,299.7 L972.4,301.8 L972.6,304.8 L970.4,307.0 L970.6,310.0 L968.4,312.2 L967.5,314.7 L969.9,313.0 L970.1,310.0 L971.7,308.5 L974.9,309.4 L978.1,310.1 L980.4,308.8 L982.2,306.6 L981.8,303.7 L983.6,301.5 L983.1,298.6 L984.9,296.4 L984.4,293.5 L986.2,291.3 L985.8,288.4 L987.5,286.3 L987.8,283.4 L990.1,281.7 L990.3,278.8 L992.7,277.2 L992.9,274.3 L995.2,272.6 L995.5,269.7 L998.1,267.9 L998.7,264.9 L1001.3,263.1 L1001.9,260.1 L1003.7,258.5 L1006.8,259.0 L1008.4,260.8 L1008.6,263.7 L1006.4,265.6 L1006.6,268.5 L1004.4,270.5 L1004.6,273.4 L1002.4,275.3 L1002.5,278.3 L1000.2,280.3 L1000.0,283.4 L997.6,285.4 L997.4,288.6 L995.0,290.6 L994.8,293.7 L992.4,295.8 L992.6,298.8 L990.4,301.0 L990.6,304.0 L988.4,306.2 L987.4,308.8 L989.4,306.6 L989.2,303.6 L991.2,301.3 L990.9,298.3 L992.9,296.1 L992.7,293.1 L994.7,290.8 L994.4,287.8 L996.4,285.5 L996.1,282.5 L998.1,280.2 L997.8,277.2 L999.7,274.8 L1000.0,271.4 L1002.7,272.6 L1005.3,271.4 L1007.6,272.4 L1010.4,273.6 L1011.6,276.4 L1014.4,277.4 L1015.6,280.1 L1018.1,282.1 L1015.3,281.4 L1013.0,283.0 L1010.9,282.8 L1009.2,280.4 L1009.8,277.5 L1008.1,275.1 L1008.6,271.8 L1005.7,270.9 L1004.3,268.1 L1001.4,267.2 L999.3,265.4 L1002.2,266.3 L1003.6,269.1 L1006.5,270.0 L1007.6,272.4 L1009.3,274.8 L1008.7,277.7 L1010.4,280.1 L1009.7,282.7 L1009.8,285.8 L1007.6,288.0 L1007.7,291.1 L1006.7,293.6 L1006.0,290.7 L1007.7,288.3 L1007.1,285.4 L1008.7,283.3 L1009.4,280.4 L1012.1,279.0 L1012.8,276.2 L1015.5,274.8 L1016.3,271.8 L1019.2,271.1 L1020.6,268.5 L1023.4,267.7 L1024.8,265.1 L1027.6,264.4 L1031.9,261.3 L1033.3,263.9 L1036.1,264.5 L1037.5,267.0 L1039.8,267.5 L1043.3,267.6 L1046.6,265.5 L1048.9,267.9 L1052.2,268.3 L1054.4,270.6 L1057.3,271.9 L1059.5,274.9 L1060.1,272.0 L1062.7,270.6 L1063.3,267.8 L1066.0,266.2 L1065.7,262.9 L1067.7,260.2 L1067.3,257.0 L1069.3,254.3 L1069.5,250.6 L1072.6,251.1 L1075.1,249.2 L1078.2,249.7 L1081.0,248.1 L1084.1,248.8 L1086.9,247.2 L1090.0,247.9 L1092.7,246.3 L1095.8,246.4 L1098.0,244.2 L1101.1,244.3 L1103.4,242.1 L1106.4,242.9 L1109.1,241.4 L1111.6,242.0 L1114.2,244.1 L1117.1,242.4 L1118.1,239.3 L1120.9,237.6 L1122.0,234.4 L1124.8,233.3 L1125.9,230.5 L1128.7,229.4 L1129.8,226.5 L1132.6,225.4 L1133.7,222.6 L1136.6,221.5 L1137.6,218.4 L1140.5,217.0 L1141.5,213.9 L1144.4,212.4 L1145.4,209.4 L1148.4,207.7 L1148.0,204.8 L1149.9,202.7 L1149.5,199.8 L1151.4,197.7 L1151.6,195.0" stroke="#f09f05" stroke-width="3.2"/>
<path d="M911.7,337.4 L910.6,341.2 L907.5,343.7 L906.5,347.3 L903.4,349.8 L903.6,353.2 L901.5,355.7 L900.5,359.3 L897.4,362.1 L899.1,365.4 L898.9,369.6 L902.1,368.9 L905.5,370.3 L905.7,367.3 L907.9,365.5 L908.1,362.5 L910.3,360.7 L910.5,357.7 L912.9,356.0 L913.1,353.0 L915.5,351.3 L915.8,348.4 L918.2,346.6 L918.5,343.7 L920.9,342.0 L921.1,339.0 L923.5,337.3 L923.8,334.4 L926.2,332.6 L926.5,329.7 L929.1,327.9 L929.7,324.9 L932.3,323.1 L932.9,320.1 L934.8,318.6 L937.7,318.4 L939.4,319.8 L939.6,323.0 L937.4,325.4 L937.6,328.6 L935.4,331.0 L935.5,334.3 L933.1,336.4 L932.9,339.6 L930.5,341.7 L930.2,344.9 L927.8,347.1 L927.5,350.3 L925.1,352.0 L924.9,355.0 L922.5,356.7 L922.2,359.6 L919.8,361.4 L919.5,364.3 L917.1,366.0 L916.9,369.0 L915.6,370.8 L913.5,367.7 L915.7,365.9 L915.9,362.9 L918.1,361.1 L918.3,358.1 L920.5,356.3 L920.8,353.4 L923.2,351.6 L923.5,348.7 L925.9,347.0 L926.1,344.0 L928.5,342.3 L928.8,339.4 L931.2,337.6 L931.5,334.7 L933.9,333.0 L934.1,330.0 L936.5,328.3 L937.1,325.3 L939.7,323.5 L940.3,320.5 L942.9,318.7 L944.2,315.4 L946.3,317.6 L949.6,318.2 L947.4,320.6 L947.6,323.8 L945.4,326.2 L945.6,329.4 L943.5,331.7 L943.2,334.9 L940.8,337.1 L940.5,340.3 L938.1,342.4 L937.9,345.6 L935.5,347.7 L935.2,350.6 L932.8,352.4 L932.5,355.3 L930.1,357.0 L929.9,360.0 L927.5,361.7 L927.2,364.6 L924.8,366.4 L923.4,368.8 L925.6,366.7 L925.5,363.7 L927.7,361.9 L927.9,358.9 L930.1,357.1 L930.3,354.1 L932.5,352.3 L932.8,349.4 L935.2,347.6 L935.5,344.7 L937.9,343.0 L938.1,340.0 L940.5,338.3 L940.8,335.4 L943.2,333.6 L943.5,330.7 L945.9,329.0 L946.1,326.0 L948.5,324.3 L949.1,321.3 L951.7,319.5 L952.3,316.5 L954.9,314.7 L956.2,311.4 L958.3,313.6 L961.6,314.2 L959.4,316.6 L959.6,319.8 L957.4,322.2 L957.6,325.4 L955.5,327.7 L955.2,330.9 L952.8,333.1 L952.5,336.3 L950.1,338.4 L949.9,341.6 L947.5,343.7 L947.2,346.6 L944.8,348.4 L944.5,351.3 L942.1,353.0 L941.9,356.0 L939.5,357.7 L939.2,360.6 L936.8,362.4 L935.5,364.8 L937.9,362.2 L938.1,358.8 L940.5,356.3 L940.7,353.3 L942.9,351.5 L943.1,348.5 L945.3,346.7 L945.5,343.7 L947.9,342.0 L948.1,339.0 L950.5,337.3 L950.8,334.4 L953.2,332.6 L953.5,329.7 L955.9,328.0 L956.1,325.0 L958.5,323.3 L958.8,320.4 L961.2,318.6 L961.5,315.7 L964.1,313.9 L964.7,310.9 L967.3,309.1 L967.9,306.1 L969.8,304.6 L972.7,304.4 L974.4,305.8 L974.6,309.0 L972.4,311.4 L972.6,314.6 L970.4,317.0 L970.5,320.3 L968.1,322.4 L967.9,325.6 L965.5,327.7 L965.2,330.9 L962.8,333.1 L962.5,336.3 L960.1,338.0 L959.9,341.0 L957.5,342.7 L957.2,345.6 L954.8,347.4 L954.5,350.3 L952.1,352.0 L951.9,355.0 L950.6,357.1 L949.9,354.1 L951.6,351.6 L950.9,348.6 L952.5,346.3 L952.7,343.3 L954.9,341.5 L955.1,338.5 L957.3,336.7 L957.5,333.7 L959.9,332.0 L960.1,329.0 L962.5,327.3 L962.8,324.4 L965.2,322.6 L965.5,319.7 L967.9,318.0 L968.1,315.0 L970.5,313.3 L970.8,310.4 L973.2,308.6 L973.5,305.7 L976.1,303.9 L976.7,300.9 L979.3,299.1 L979.9,296.1 L981.8,294.6 L984.7,294.4 L986.4,295.8 L986.6,299.0 L984.4,301.4 L984.6,304.6 L982.4,307.0 L982.5,310.3 L980.1,312.4 L979.9,315.6 L977.5,317.7 L977.2,320.9 L974.8,323.1 L974.5,326.3 L972.1,328.0 L971.9,331.0 L969.5,332.7 L969.2,335.6 L966.8,337.4 L966.5,340.3 L964.1,342.0 L963.9,345.0 L962.5,347.3 L963.0,344.4 L965.5,342.8 L966.0,339.9 L968.5,338.2 L968.6,335.1 L970.9,332.9 L971.0,329.8 L973.2,327.6 L973.3,324.4 L975.5,322.3 L975.7,319.3 L977.9,317.4 L978.0,314.5 L980.2,312.3 L980.1,309.2 L982.3,307.0 L982.2,303.9 L984.4,301.7 L984.3,298.6 L986.5,296.4 L986.5,293.1 L989.2,291.8 L989.9,288.9 L992.6,287.5 L993.3,284.6 L995.9,283.4 L997.3,280.8 L1000.1,280.2 L1001.5,277.7 L1003.9,277.2 L1006.9,276.7 L1009.5,278.6 L1013.0,278.9 L1011.0,281.5 L1011.3,284.8 L1009.3,287.4 L1009.6,290.7 L1007.6,293.4 L1008.3,296.3 L1006.6,298.7 L1007.2,301.6 L1005.5,304.0 L1006.2,306.9 L1004.5,309.3 L1005.1,312.2 L1004.6,314.9 L1004.5,311.8 L1006.7,309.6 L1006.6,306.5 L1008.7,304.3 L1008.7,301.5 L1010.9,299.6 L1010.8,296.7 L1013.0,294.8 L1013.0,291.9 L1015.1,290.0 L1015.1,287.1 L1017.0,285.5 L1019.0,282.9 L1022.3,282.4 L1024.3,279.8 L1027.1,279.3 L1030.3,279.1 L1032.9,281.2 L1036.5,280.1 L1040.0,281.4 L1043.2,280.2 L1045.8,281.1 L1048.9,283.7 L1050.2,287.6 L1052.1,289.1 L1054.3,286.9 L1054.2,283.8 L1056.4,281.6 L1056.4,278.3 L1059.1,277.0 L1059.8,274.1 L1062.5,272.7 L1063.2,269.8 L1065.7,268.6 L1068.2,265.5 L1071.8,264.5 L1074.2,262.8 L1077.1,263.4 L1079.5,261.7 L1082.5,262.4 L1084.7,260.2 L1087.8,260.2 L1090.0,258.0 L1093.0,258.1 L1095.5,256.7 L1098.3,257.6 L1100.8,256.2 L1103.9,257.0 L1105.2,254.4 L1108.1,253.7 L1109.4,250.8 L1112.3,249.5 L1113.8,246.4 L1117.0,244.9 L1118.1,242.1 L1120.9,241.0 L1122.0,238.2 L1124.9,237.1 L1125.9,234.1 L1128.7,232.6 L1129.8,229.6 L1132.6,228.2 L1133.7,225.2 L1136.5,223.7 L1137.5,220.7 L1140.4,219.1 L1141.5,216.0 L1144.3,214.5 L1145.4,211.4 L1148.4,209.6 L1148.3,206.1 L1150.5,203.3 L1151.0,200.0" stroke="#0808a8" stroke-width="3.2"/>
<path d="M1152.3,192.8 L1152.6,196.1 L1150.3,198.6 L1150.5,201.9 L1148.2,204.4 L1148.3,208.0 L1145.3,209.3 L1144.4,212.5 L1141.4,213.8 L1140.5,217.0 L1137.5,218.4 L1136.6,221.6 L1133.6,222.6 L1132.7,225.5 L1129.7,226.5 L1128.8,229.4 L1125.8,230.4 L1124.9,233.3 L1121.9,234.4 L1121.0,237.7 L1118.0,239.2 L1117.2,242.5 L1114.1,244.1 L1113.3,247.7 L1110.1,250.0 L1111.6,252.6 L1110.7,255.8 L1114.5,256.6 L1116.6,259.5 L1119.2,261.6 L1119.2,264.9 L1121.8,267.0 L1121.8,270.1 L1124.3,271.9 L1124.2,274.9 L1126.7,276.7 L1126.9,280.1 L1130.4,281.0 L1132.3,284.1 L1135.8,285.0 L1138.1,288.2 L1142.1,289.3 L1142.2,292.6 L1144.8,294.7 L1144.8,297.9 L1147.2,300.2 L1146.8,303.3 L1149.2,305.8 L1148.0,308.5 L1149.6,311.2 L1148.4,313.9 L1149.9,316.6 L1148.7,319.3 L1150.3,322.1 L1148.4,324.9 L1149.2,328.2 L1147.3,331.0 L1148.2,334.4 L1145.8,337.0 L1146.2,340.0 L1145.5,343.1 L1147.5,345.4 L1146.8,348.4 L1148.8,351.0 L1148.1,354.1 L1150.0,356.7 L1149.3,359.8 L1151.3,362.6 L1149.6,365.8 L1150.6,369.3 L1148.9,372.7 L1151.0,375.9 L1150.2,379.5 L1152.3,382.7 L1151.2,386.2 L1153.0,389.5 L1151.9,392.7 L1152.3,396.6 L1150.6,400.0" stroke="#f04e08" stroke-width="3.3"/>
<path d="M1149.1,399.9 L1149.9,402.8 L1148.4,405.3 L1149.2,407.9 L1149.6,411.9 L1152.3,415.0 L1151.9,417.9 L1153.8,420.1 L1153.4,422.9 L1155.3,425.2 L1155.7,430.4" stroke="#f04e08" stroke-width="3.3"/>
<path d="M1155.6,430.9 L1158.9,430.5 L1162.3,432.3 L1163.4,429.0 L1166.3,427.2 L1167.3,424.1 L1169.2,421.7 L1168.8,418.6 L1170.7,416.1 L1171.1,412.6 L1173.4,414.3 L1175.0,416.8 L1174.4,419.8 L1176.1,422.4 L1175.5,425.7 L1178.1,426.9 L1178.9,429.7 L1181.6,431.2 L1181.1,434.2 L1183.0,436.6 L1182.5,439.4 L1183.1,442.9 L1181.5,446.1 L1182.0,450.0 L1179.2,451.6 L1178.3,454.7 L1175.8,456.1 L1172.6,458.5 L1169.2,458.7 L1164.3,456.5 L1163.7,453.0 L1160.9,450.7 L1160.3,447.3 L1157.9,444.8 L1157.6,441.3 L1155.1,438.6 L1155.8,435.7 L1154.1,433.2 L1154.2,430.4" stroke="#f04e08" stroke-width="3.3"/>
<path d="M1154.8,428.2 L1149.9,428.9 L1146.9,428.8 L1145.2,430.6 L1143.0,432.7 L1142.9,435.9 L1139.7,437.0 L1138.0,439.8 L1135.2,441.7 L1134.6,444.6 L1133.2,447.2 L1134.2,450.0 L1133.3,452.0 L1130.0,453.7 L1128.3,457.1 L1129.0,460.8 L1127.3,463.7 L1128.0,466.9 L1126.3,469.7 L1126.4,472.9" stroke="#f04e08" stroke-width="3.3"/>
<path d="M1126.4,472.3 L1123.5,473.5 L1120.7,472.3 L1117.9,473.5 L1115.0,472.3 L1112.8,472.9 L1111.3,475.5 L1112.1,478.3 L1110.7,481.2 L1113.2,483.7 L1113.6,487.0 L1114.5,490.1 L1113.0,493.1 L1113.2,496.8 L1109.6,496.2 L1111.1,499.5 L1110.3,503.0 L1111.5,505.8 L1113.2,508.5 L1116.3,509.2 L1118.1,511.9 L1121.4,511.4 L1124.2,513.3 L1128.0,513.4 L1126.5,516.3 L1127.3,519.5 L1126.3,523.1 L1129.5,522.1 L1132.4,523.6 L1135.5,522.6 L1139.1,523.5 L1138.2,520.6 L1139.6,518.0 L1138.7,515.1 L1140.1,512.2 L1138.4,509.7 L1139.1,506.7 L1137.4,504.1 L1137.6,500.6 L1134.4,501.5 L1131.5,499.9 L1128.2,500.8 L1126.0,498.9 L1123.2,499.3 L1121.0,497.4 L1118.0,497.7 L1114.2,495.1" stroke="#f04e08" stroke-width="3.3"/>
<path d="M1144.0,433.3 L1144.7,436.5 L1143.0,439.4 L1143.7,442.6 L1142.0,445.4 L1142.5,448.7 L1140.6,451.5 L1141.1,454.8 L1139.5,457.3 L1140.1,460.3 L1138.4,462.9 L1139.1,465.9 L1137.4,468.5 L1138.1,471.5 L1136.4,474.0 L1137.1,477.0 L1135.6,479.9 L1136.6,483.0 L1135.1,486.0 L1136.1,489.1 L1134.6,492.1 L1135.6,495.2 L1134.1,498.1 L1135.1,501.3 L1133.5,504.5 L1134.4,508.0 L1132.9,511.6 L1135.0,513.6 L1135.5,516.4" stroke="#f04e08" stroke-width="3.3"/>
<path d="M1147.1,454.8 L1149.2,457.5 L1149.1,460.6 L1149.6,464.2 L1147.7,467.4 L1148.2,471.0 L1146.4,474.1 L1146.9,477.7 L1145.1,480.7 L1144.6,484.8 L1142.6,488.1" stroke="#f04e08" stroke-width="3.3"/>
<path d="M1112.2,474.5 L1114.9,473.2 L1117.6,474.3 L1120.3,473.0 L1123.0,474.1 L1125.7,472.9 L1128.4,474.0 L1132.0,473.0 L1135.7,474.5 L1138.2,472.5 L1141.3,472.8 L1143.8,470.9 L1147.0,471.2 L1149.7,469.8" stroke="#f04e08" stroke-width="3.3"/>
<path d="M1128.4,481.6 L1131.2,480.4 L1134.1,481.6 L1136.9,480.4 L1139.7,481.6 L1142.6,480.4 L1146.1,481.6 L1149.7,481.0" stroke="#f04e08" stroke-width="3.3"/>
<path d="M1142.3,488.6 L1146.3,489.0 L1149.1,491.2 L1150.8,494.0 L1150.1,496.9 L1150.2,499.9 L1148.4,502.8 L1151.6,502.7 L1153.8,504.8 L1157.3,505.4 L1155.6,508.2 L1156.2,511.0 L1157.3,514.2 L1159.8,516.4" stroke="#f04e08" stroke-width="3.3"/>
<circle cx="896.1" cy="279.9" r="4.3" fill="#f09f05" stroke="none"/>
<circle cx="912.2" cy="337.7" r="4.3" fill="#0808a8" stroke="none"/>
<circle cx="1159.8" cy="516.4" r="4.8" fill="#f04e08" stroke="none"/>
<path d="M112.6,1017.5 L113.1,1014.5 L115.2,1012.3 L115.6,1009.6 L115.8,1006.3 L114.2,1003.0 L116.6,1001.0 L117.2,997.8 L119.6,995.8 L121.2,992.1 L123.6,989.7 L126.5,990.4 L128.1,992.3 L128.6,995.1 L127.0,997.5 L127.4,1000.5 L125.0,1002.5 L124.4,1005.7 L122.0,1008.3 L124.4,1010.0 L125.3,1013.1 L128.3,1013.2 L130.5,1015.2 L132.9,1015.5 L135.2,1014.0 L136.0,1011.3 L138.4,1009.6 L138.2,1006.3 L139.9,1003.6 L141.5,999.9 L144.6,997.5 L147.7,993.8 L148.4,997.3 L150.9,1000.3 L149.1,1003.2 L149.2,1006.7 L146.8,1008.5 L145.6,1010.6 L149.0,1010.8 L151.7,1009.1 L155.4,1007.6 L157.9,1004.5 L161.6,1002.9 L164.0,999.8 L167.1,998.2 L168.6,995.3 L170.6,993.1 L170.7,990.1 L172.7,987.6 L171.0,984.7 L171.1,981.8 L171.8,978.9 L173.9,977.3 L176.3,975.8 L179.1,976.3 L181.9,974.9 L183.6,977.3 L186.7,978.4 L185.7,981.5 L186.7,984.6 L185.8,987.5 L185.1,991.1 L182.9,994.4 L186.4,995.1 L189.5,997.5 L192.2,995.1 L196.1,994.2 L196.2,990.7 L198.1,987.9 L198.4,984.2 L202.1,982.6 L204.8,979.4 L208.1,979.6 L210.9,978.0 L214.5,977.3 L217.0,975.0 L219.4,973.5 L220.1,970.8 L222.6,969.2 L222.7,966.2 L224.6,964.0 L224.8,961.4 L223.4,957.7 L220.7,960.1 L217.0,960.9 L216.3,964.1 L213.8,966.1 L213.2,968.9 L212.7,972.2 L214.3,975.2 L214.0,978.8 L217.2,980.1 L219.2,982.9 L221.9,984.2 L225.4,983.5 L227.9,981.1 L230.7,979.8 L232.1,977.0 L234.9,975.6 L235.7,972.9 L238.0,971.4 L238.8,968.7 L241.2,967.0 L241.9,964.1 L244.3,962.3 L244.9,959.5 L246.9,956.7 L247.0,953.3 L248.8,950.7 L250.5,947.6 L253.6,946.0 L254.3,943.1 L256.1,941.5 L261.4,942.3 L262.1,945.2 L263.7,946.9 L266.1,945.2 L266.7,942.4 L268.7,940.2 L268.8,937.2 L270.8,934.9 L270.3,931.6 L271.9,928.6 L271.4,925.2 L273.4,923.0 L273.5,920.0 L275.3,918.0 L277.0,914.9 L279.6,913.5 L282.9,913.3 L285.5,914.9 L288.6,916.5 L291.0,919.6 L292.6,916.5 L295.7,914.8 L296.7,911.1 L299.4,908.6 L300.5,905.4 L303.2,903.5 L304.5,900.7 L307.2,899.5 L308.5,896.7 L311.3,895.5 L313.2,892.0 L316.4,890.2 L318.7,888.3 L321.8,888.4 L324.1,886.5 L327.2,886.5 L329.5,884.5 L332.5,884.5 L334.9,882.5 L337.8,883.1 L340.3,881.8 L343.2,882.4 L346.0,881.1 L348.0,883.3 L351.0,883.7 L353.0,886.0 L356.0,886.4 L358.3,888.7 L361.0,887.2 L364.1,887.5 L366.7,885.2 L370.1,884.5 L372.6,882.2 L375.2,881.3 L376.5,878.8 L379.2,877.9 L380.6,875.3 L383.8,875.1 L386.3,873.1 L389.5,872.9 L392.1,870.8 L395.0,871.5 L397.7,870.3 L400.6,871.0 L403.2,869.8 L406.3,869.1 L408.4,866.8 L411.5,866.2 L413.9,864.1 L417.1,863.9 L419.6,861.8 L422.9,861.5 L424.6,859.3 L427.4,858.7 L429.1,856.5 L431.7,856.0 L434.4,854.7 L437.2,855.4 L440.2,855.3 L443.1,857.0 L447.0,854.1 L449.5,852.4 L450.4,849.6 L452.9,847.9 L453.8,845.0 L456.3,843.7 L457.2,841.0 L459.7,839.7 L460.5,837.3 L462.0,834.7 L461.6,831.4 L464.3,830.3 L465.5,827.6 L468.1,826.5 L470.1,823.5 L473.4,822.0 L475.2,819.2 L477.3,816.2 L477.9,812.6" stroke="#f09f05" stroke-width="3.3"/>
<path d="M158.6,1052.0 L160.2,1048.9 L162.9,1047.4 L166.0,1046.4 L169.1,1047.4 L171.9,1046.5 L175.6,1044.9 L178.0,1042.0 L180.0,1040.1 L180.3,1037.3 L182.4,1035.5 L182.6,1033.0 L183.1,1030.2 L181.6,1027.8 L181.4,1024.7 L178.7,1027.1 L175.2,1027.7 L172.3,1029.5 L169.1,1029.3 L165.2,1030.3 L161.8,1029.7 L160.0,1026.8 L159.9,1024.0 L162.6,1021.6 L166.3,1020.8 L168.3,1017.9 L171.5,1016.7 L173.4,1014.0 L175.8,1011.3 L176.7,1007.5 L179.7,1007.4 L181.9,1005.5 L184.6,1005.4 L187.4,1004.9 L189.8,1006.4 L192.8,1006.8 L189.9,1007.5 L188.2,1009.8 L185.8,1011.3 L185.1,1014.0 L182.6,1015.6 L182.5,1019.1 L180.6,1021.8 L180.4,1024.7 L181.7,1027.5 L184.5,1028.9 L186.2,1031.8 L188.8,1030.8 L191.4,1031.8 L193.6,1031.0 L196.7,1028.5 L198.4,1024.7 L202.1,1023.1 L204.5,1020.2 L206.9,1017.5 L207.5,1014.3 L207.7,1011.0 L206.0,1008.1 L206.5,1005.3 L204.9,1002.9 L205.3,1000.5 L206.9,996.8 L209.8,994.5 L212.0,992.5 L215.0,992.3 L217.9,990.6 L218.5,995.2 L217.0,998.2 L213.8,1000.0 L213.7,1003.0 L211.7,1005.2 L211.6,1007.8 L211.7,1010.8 L213.7,1013.0 L214.1,1016.3 L217.1,1016.4 L219.3,1018.3 L221.6,1018.8 L223.1,1016.4 L222.6,1013.6 L224.0,1011.4 L224.7,1008.2 L227.2,1006.2 L227.9,1003.0 L231.0,1000.5 L232.6,996.8 L235.0,994.8 L235.6,991.6 L238.0,989.6 L239.6,985.9 L242.7,983.5 L244.3,980.4 L247.5,978.6 L248.9,975.5 L246.5,978.2 L245.8,981.9 L243.0,983.2 L241.6,986.0 L238.7,987.5 L238.6,990.5 L236.7,992.7 L236.5,995.3 L237.2,998.8 L239.1,1001.2 L241.9,1001.7 L244.3,1000.2 L247.4,1000.5 L248.9,997.5 L252.0,995.8 L252.7,992.6 L255.2,990.6 L255.9,987.5 L257.9,985.6 L258.2,982.8 L260.3,981.0 L260.5,978.6 L260.4,975.1 L258.5,972.3 L258.4,969.1 L257.9,966.3 L259.4,963.9 L259.1,960.8 L262.1,959.3 L263.7,956.2 L266.8,954.6 L268.4,951.6 L270.8,949.8 L272.4,947.3 L270.9,950.2 L271.3,953.6 L269.8,956.4 L269.7,959.9 L267.8,962.6 L267.7,965.9 L266.7,968.5 L267.7,971.1 L267.3,974.2 L270.2,972.4 L273.9,972.4 L275.4,968.7 L278.5,966.1 L278.8,963.3 L280.9,961.5 L281.2,958.7 L283.2,956.8 L283.5,954.0 L285.6,952.1 L285.9,949.3 L288.0,947.4 L288.1,943.9 L290.0,941.2 L290.2,937.6 L292.6,935.6 L293.3,932.4 L295.6,930.5 L299.3,926.6 L303.2,930.4 L304.5,927.6 L307.2,926.3 L308.5,923.6 L310.4,921.8 L310.7,924.7 L309.1,927.1 L309.4,930.0 L307.7,932.4 L307.8,935.5 L305.9,937.8 L305.3,940.3 L308.4,939.8 L310.5,937.8 L312.7,935.5 L313.1,932.4 L315.3,930.2 L315.8,927.0 L318.4,924.9 L319.4,921.6 L322.0,919.5 L322.8,916.8 L325.2,915.2 L326.0,912.5 L328.4,910.9 L329.2,908.2 L332.0,906.6 L333.2,903.7 L335.8,902.3 L338.2,900.2 L341.4,900.0 L343.9,898.0 L346.7,897.8 L349.9,897.9 L352.3,899.9 L355.7,900.8 L358.5,903.3 L360.8,900.8 L364.3,899.8 L365.4,896.6 L368.0,894.5 L369.2,891.2 L372.0,890.7 L373.8,888.5 L376.5,888.0 L378.3,885.8 L380.9,885.4 L383.5,883.6 L386.6,883.7 L389.1,881.9 L392.2,882.0 L394.8,880.2 L397.9,880.3 L400.4,878.5 L403.7,878.5 L405.9,875.5 L409.4,873.9 L410.5,871.0 L413.2,869.4 L414.5,866.4 L417.8,865.8 L420.1,863.5 L423.4,863.0 L425.8,860.6 L428.8,860.5 L431.1,858.4 L434.0,858.3 L438.0,856.2 L440.8,854.9 L442.1,852.2 L444.9,850.9 L446.2,848.2 L448.9,846.9 L450.5,844.1 L453.4,842.9 L455.0,840.2 L458.0,838.9 L459.2,836.0 L461.9,834.4 L463.1,831.4 L465.9,829.9 L467.1,827.2 L469.8,825.9 L471.1,823.2 L473.8,821.8 L474.7,818.1 L476.8,815.0" stroke="#0808a8" stroke-width="3.3"/>
<path d="M107.3,964.8 L110.2,965.5 L112.0,967.9 L114.8,968.6 L116.7,970.7 L119.5,971.2 L121.4,973.3 L124.2,973.8 L126.0,975.9 L128.5,977.3 L125.5,975.8 L122.3,976.3 L118.7,975.2 L119.2,978.5 L117.7,981.4 L117.9,984.2 L119.8,986.2 L122.6,986.5 L124.4,988.6 L127.2,988.9 L129.5,991.3 L132.7,992.0 L134.9,994.4 L137.7,995.0 L143.0,994.2 L143.7,990.6 L145.9,988.1 L148.6,985.7 L152.1,985.1 L155.0,983.4 L158.6,983.4 L159.3,980.5 L161.7,978.7 L162.5,976.0 L164.8,974.5 L166.0,971.6 L169.1,972.6 L172.0,971.6 L175.0,971.5 L177.2,969.6 L179.5,969.1 L181.3,972.0 L181.2,975.1 L180.9,977.9 L178.8,979.7 L178.5,982.5 L176.5,984.3 L175.8,987.2 L173.6,989.7 L177.1,990.4 L179.9,992.9 L183.2,992.4 L186.1,994.0 L188.8,993.8 L190.8,991.0 L191.0,987.6 L193.0,984.5 L191.5,981.6 L191.9,978.3 L190.4,975.4 L190.6,972.0 L188.9,968.7 L191.8,966.7 L193.1,963.5 L195.7,961.7 L198.6,960.2 L201.9,960.7 L205.1,959.3 L207.8,961.7 L211.6,963.0 L209.6,965.7 L209.5,969.2 L207.7,971.7 L205.7,974.6 L202.5,975.9 L200.2,978.9 L196.3,977.9 L192.1,978.6 L191.3,975.0 L189.2,971.6 L192.2,971.8 L194.6,970.1 L197.6,970.3 L200.0,968.5 L203.0,968.4 L205.2,966.5 L208.4,966.3 L209.7,963.5 L212.6,962.1 L213.9,959.5 L216.3,956.8 L217.0,953.9 L215.4,950.8 L212.3,948.4 L215.4,946.8 L217.2,943.7 L220.7,943.0 L223.2,940.8 L225.6,938.1 L226.3,934.5 L228.7,933.0 L229.4,930.3 L231.8,928.7 L232.5,925.2 L234.9,922.5 L235.6,919.0 L238.0,916.3 L238.3,913.5 L240.4,911.6 L240.7,908.8 L242.7,907.0 L244.3,903.3 L247.5,900.7 L248.3,895.4 L251.9,894.7 L255.3,892.8 L253.8,895.2 L254.2,898.0 L252.8,900.3 L252.5,903.1 L250.4,904.9 L250.1,907.7 L248.6,910.3 L251.5,908.6 L255.1,908.7 L257.6,905.6 L261.1,904.1 L264.0,902.4 L267.6,902.4 L268.3,899.5 L270.7,897.7 L272.3,894.0 L275.4,891.4 L276.1,887.8 L278.5,885.3 L279.8,882.5 L282.7,881.1 L284.3,878.2 L287.6,878.4 L290.9,876.7 L292.7,879.1 L295.6,879.8 L299.2,883.9 L300.2,882.5 L302.6,884.3 L305.6,884.1 L308.0,885.9 L311.0,885.7 L313.3,887.5 L316.4,887.4 L318.7,889.3 L321.6,889.2 L324.4,890.5 L327.2,889.7 L329.9,891.0 L333.0,890.9 L335.5,892.7 L338.6,892.6 L341.1,894.4 L344.5,894.6 L347.1,896.6 L350.0,896.9 L353.2,895.8 L355.3,893.1 L358.4,892.1 L360.8,890.0 L364.0,889.8 L366.5,887.8 L369.6,887.6 L372.2,885.8 L375.3,885.9 L377.8,884.1 L380.8,884.2 L383.6,882.9 L386.5,883.6 L389.2,882.4 L392.2,883.1 L394.8,881.3 L397.9,881.4 L400.4,879.6 L403.6,879.7 L406.0,877.6 L409.3,877.4 L411.5,874.3 L414.8,872.9 L417.4,871.1 L420.5,871.2 L423.0,869.4 L426.1,869.5 L428.5,867.8 L431.4,868.0 L433.5,866.5 L436.0,865.2 L436.9,862.5 L439.4,861.2 L440.3,858.6 L443.1,856.7 L444.3,853.5 L447.0,851.6 L448.3,848.3 L451.2,847.1 L452.8,844.4 L455.7,843.2 L457.2,840.5 L459.9,838.5 L461.0,835.2 L463.7,833.2 L464.9,830.3 L467.6,828.7 L468.8,825.8 L471.6,824.1 L472.2,820.9 L474.4,818.5 L475.0,815.2 L477.3,812.7 L478.0,808.0" stroke="#f04e08" stroke-width="3.3"/>
<circle cx="107.6" cy="964.4" r="4.8" fill="#e8000e" stroke="none"/>
<circle cx="112.0" cy="1017.5" r="5.0" fill="#f09f05" stroke="none"/>
<circle cx="158.2" cy="1051.6" r="5.0" fill="#0808a8" stroke="none"/>
</g>
<!-- frames -->
<g fill="none" stroke="#000" stroke-width="2.3">
  <rect x="99.1" y="41.2" width="604.5" height="530.4"/>
  <rect x="774.2" y="41.2" width="604.8" height="530.4"/>
  <rect x="98.2" y="655.9" width="604.8" height="530.5"/>
  <!-- A y ticks -->
  <path d="M99 79.8h8.5M99 232.4h8.5M99 385.6h8.5M99 538.4h8.5"/>
  <!-- C y ticks -->
  <path d="M98 694.4h8.5M98 847.1h8.5M98 1000.1h8.5M98 1153.6h8.5"/>
  <!-- B x ticks -->
  <path d="M835.2 571.6v-8.5M969.1 571.6v-8.5M1103.1 571.6v-8.5M1237 571.6v-8.5M1372 571.6v-8.5"/>
  <!-- C x ticks -->
  <path d="M159 1186.4v-8.5M292.3 1186.4v-8.5M426.9 1186.4v-8.5M561.5 1186.4v-8.5M696.2 1186.4v-8.5"/>
</g>
<!-- panel letters -->
<text class="pl" x="105.5" y="24.2">A</text>
<text class="pl" x="788" y="24">B</text>
<text class="pl" x="105.5" y="638">C</text>
<!-- legends -->
<g stroke-width="3.6" stroke-linecap="round">
  <path d="M114.4 78.9h38.5" stroke="#f24a05"/>
  <path d="M114.4 110.7h38.5" stroke="#f29f05"/>
  <path d="M114.4 142.5h38.5" stroke="#0606a8"/>
  <path d="M789.4 78.9h38.5" stroke="#f24a05"/>
  <path d="M789.4 110.7h38.5" stroke="#f29f05"/>
  <path d="M789.4 142.5h38.5" stroke="#0606a8"/>
  <path d="M112.8 694.1h38.3" stroke="#f24a05"/>
  <path d="M112.8 725.9h38.3" stroke="#f29f05"/>
  <path d="M112.8 757.8h38.3" stroke="#0606a8"/>
</g>
<g class="t">
  <text class="t" x="162.5" y="87.1">Scenario 2</text>
  <text class="t" x="162.5" y="119">Scenario 2a (No Wind)</text>
  <text class="t" x="162.5" y="150.9">Scenario 2b (No Wind &amp; CF)</text>
  <text class="t" x="838.9" y="87.1">Scenario 6</text>
  <text class="t" x="838.9" y="119">Scenario 6a (No Wind)</text>
  <text class="t" x="838.9" y="150.9">Scenario 6b (No Wind &amp; CF)</text>
  <text class="t" x="162.5" y="699.4">Scenario 8</text>
  <text class="t" x="162.5" y="731.3">Scenario 8a (No Wind)</text>
  <text class="t" x="162.5" y="763.2">Scenario 8b (No Wind &amp; CF)</text>
  <!-- y tick labels A -->
  <text class="t" text-anchor="middle" transform="translate(77.4,82.2) rotate(-90)">29.67</text>
  <text class="t" text-anchor="middle" transform="translate(77.4,233.1) rotate(-90)">29.50</text>
  <text class="t" text-anchor="middle" transform="translate(77.4,389.6) rotate(-90)">29.33</text>
  <text class="t" text-anchor="middle" transform="translate(77.4,540.8) rotate(-90)">29.17</text>
  <text class="t" text-anchor="middle" transform="translate(24.8,313.4) rotate(-90)">Latitude</text>
  <!-- y tick labels C -->
  <text class="t" text-anchor="middle" transform="translate(77.4,696) rotate(-90)">29.67</text>
  <text class="t" text-anchor="middle" transform="translate(77.4,846.7) rotate(-90)">29.50</text>
  <text class="t" text-anchor="middle" transform="translate(77.4,1002.5) rotate(-90)">29.33</text>
  <text class="t" text-anchor="middle" transform="translate(77.4,1156.9) rotate(-90)">29.17</text>
  <text class="t" text-anchor="middle" transform="translate(25.7,925) rotate(-90)">Latitude</text>
  <!-- x tick labels B -->
  <text class="t" text-anchor="middle" x="834.5" y="611.6">-91.83</text>
  <text class="t" text-anchor="middle" x="967.5" y="611.6">-91.67</text>
  <text class="t" text-anchor="middle" x="1101.5" y="610.5">-91.50</text>
  <text class="t" text-anchor="middle" x="1240.4" y="611.3">-91.33</text>
  <text class="t" text-anchor="middle" x="1373.8" y="611">-91.17</text>
  <text class="t" text-anchor="middle" x="1092.3" y="657.5">Longitude</text>
  <!-- x tick labels C -->
  <text class="t" text-anchor="middle" x="155.5" y="1226.8">-91.83</text>
  <text class="t" text-anchor="middle" x="290.3" y="1226.8">-91.67</text>
  <text class="t" text-anchor="middle" x="422.5" y="1228.3">-91.50</text>
  <text class="t" text-anchor="middle" x="558" y="1225.8">-91.33</text>
  <text class="t" text-anchor="middle" x="673.8" y="1225.8">-91.17</text>
  <text class="t" text-anchor="middle" x="409.4" y="1273.5">Longitude</text>
</g>
</svg>
</body></html>
